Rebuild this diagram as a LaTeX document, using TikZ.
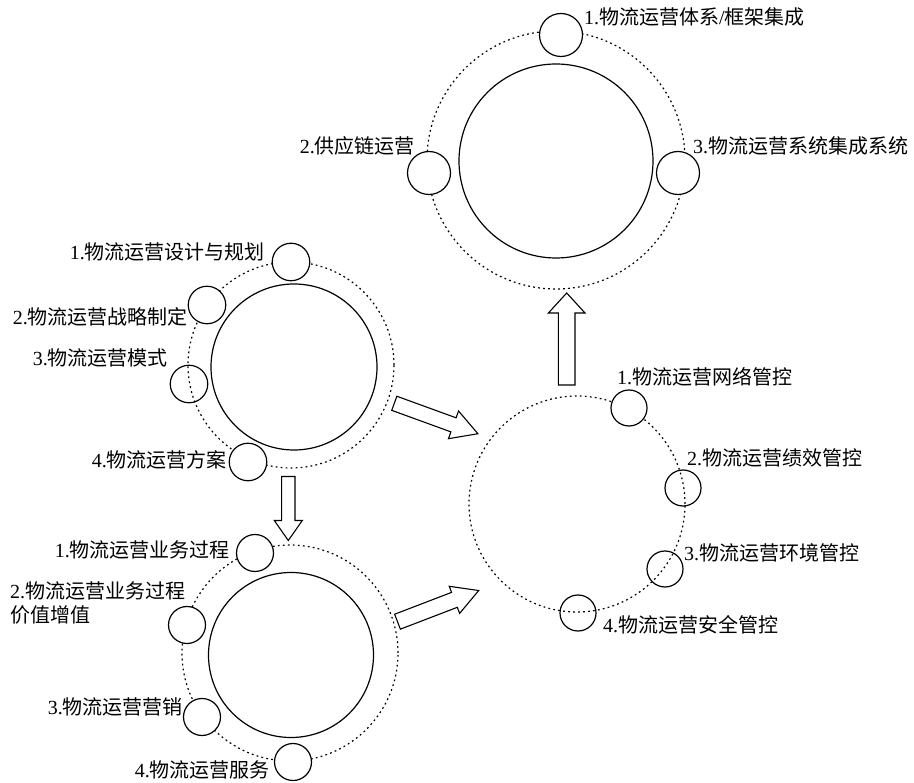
\documentclass[tikz,border=0pt]{standalone}
\usepackage{fontspec}
\setmainfont{Liberation Serif}
\newfontfamily\cjk{Noto Sans CJK SC}
\begin{document}
\begin{tikzpicture}[x=1pt,y=-1pt,
  ring/.style={circle,draw,line width=1.2pt,dash pattern=on 1.8pt off 3.2pt,inner sep=0,minimum size=#1},
  hub/.style={circle,draw,line width=1.2pt,inner sep=0,minimum size=#1},
  sat/.style={circle,draw,line width=1.2pt,inner sep=0,minimum size=#1,fill=white},
  satopen/.style={circle,draw,line width=1.2pt,inner sep=0,minimum size=#1},
  lab/.style={inner sep=0,font=\fontsize{20}{24}\selectfont},
  blk/.style={draw,line width=1.1pt,fill=white,line join=miter},
  pics/blockarrow/.style args={#1/#2/#3/#4}{code={
    \draw[blk] (0,-#3) -- (#1-#2,-#3) -- (#1-#2,-#4) -- (#1,0)
      -- (#1-#2,#4) -- (#1-#2,#3) -- (0,#3) -- cycle;}}]
\useasboundingbox (0,0) rectangle (914,783);

% integration cluster (top)
\node[ring=258] (tring) at (556,160) {};
\node[hub=194] (thub) at (556,161) {};
\node[sat=43] (t1) at (561,35) {};
\node[sat=43] (t2) at (429,173) {};
\node[sat=43] (t3) at (678,173) {};
\node[lab,anchor=west] (lt1) at (584,17) {1.{\cjk 物流运营体系}/{\cjk 框架集成}};
\node[lab,anchor=east] (lt2) at (415,146) {2.{\cjk 供应链运营}};
\node[lab,anchor=west] (lt3) at (693,146) {3.{\cjk 物流运营系统集成系统}};

% planning cluster (upper left)
\node[ring=206] (pring) at (291,365) {};
\node[hub=166] (phub) at (294,367) {};
\node[sat=37.5] (p1) at (291,262) {};
\node[sat=37.5] (p2) at (207,305) {};
\node[satopen=37.5] (p3) at (189,384) {};
\node[sat=37.5] (p4) at (248,462) {};
\node[lab,anchor=east] (lp1) at (265,252) {1.{\cjk 物流运营设计与规划}};
\node[lab,anchor=east] (lp2) at (188,317) {2.{\cjk 物流运营战略制定}};
\node[lab,anchor=east] (lp3) at (168,358) {3.{\cjk 物流运营模式}};
\node[lab,anchor=east] (lp4) at (227,460) {4.{\cjk 物流运营方案}};

% business cluster (lower left)
\node[ring=216] (bring) at (290,653) {};
\node[hub=165] (bhub) at (291,655) {};
\node[sat=37] (b1) at (255,553) {};
\node[sat=37] (b2) at (187,625) {};
\node[sat=37] (b3) at (202,717) {};
\node[sat=37] (b4) at (293,762) {};
\node[lab,anchor=east] (lb1) at (230,550) {1.{\cjk 物流运营业务过程}};
\node[lab,anchor=north west,align=left] (lb2) at (10,581)
  {2.{\cjk 物流运营业务过程}\\{\cjk 价值增值}};
\node[lab,anchor=east] (lb3) at (183,707) {3.{\cjk 物流运营营销}};
\node[lab,anchor=east] (lb4) at (270,770) {4.{\cjk 物流运营服务}};

% control cluster (right)
\node[ring=216] (cring) at (577,504) {};
\node[sat=36] (c1) at (629,408) {};
\node[satopen=36] (c2) at (683,488) {};
\node[satopen=36] (c3) at (665,569) {};
\node[satopen=36] (c4) at (578,613) {};
\node[lab,anchor=west] (lc1) at (617,377) {1.{\cjk 物流运营网络管控}};
\node[lab,anchor=west] (lc2) at (687,458) {2.{\cjk 物流运营绩效管控}};
\node[lab,anchor=west] (lc3) at (684,553) {3.{\cjk 物流运营环境管控}};
\node[lab,anchor=west] (lc4) at (603,625) {4.{\cjk 物流运营安全管控}};

% hollow block arrows between the clusters
\coordinate (aPC) at (394.3,403.3);
\coordinate (aBC) at (397.5,621.7);
\coordinate (aPB) at (288.3,476.5);
\coordinate (aCT) at (566.7,385);
\pic[rotate=-20] at (aPC) {blockarrow=89/26/7.5/14.7};
\pic[rotate=21] at (aBC) {blockarrow=87/26/8/14.5};
\pic[rotate=-90] at (aPB) {blockarrow=64/20/6.7/14};
\pic[rotate=90] at (aCT) {blockarrow=92/20/8.3/18.3};
\end{tikzpicture}
\end{document}
